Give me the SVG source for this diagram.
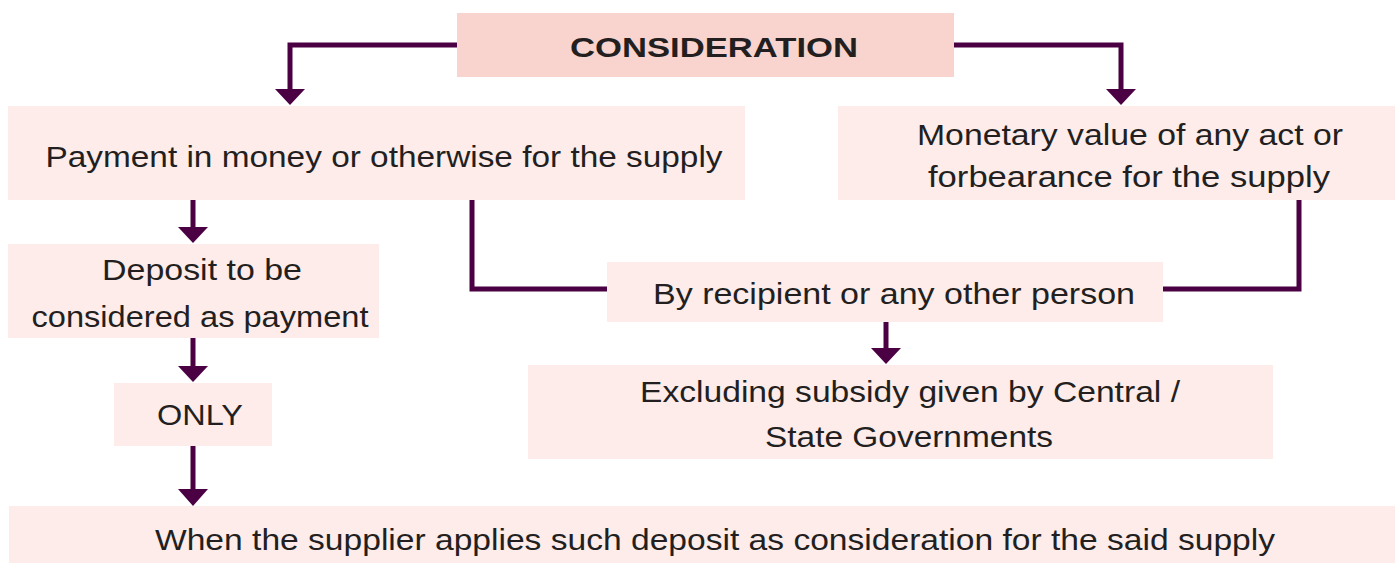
<svg xmlns="http://www.w3.org/2000/svg" width="1395" height="563" viewBox="0 0 1395 563">
<defs>
<style>
.box{fill:#FDECEA}
.top{fill:#F9D3CD}
.t{font-family:"Liberation Sans","DejaVu Sans",sans-serif;font-size:29px;fill:#231F20;text-anchor:middle}
.b{font-weight:bold;font-size:28px}
.c{fill:none;stroke:#4A0043;stroke-width:5}
.ah{fill:#4A0043}
</style>
</defs>
<rect width="1395" height="563" fill="#FFFFFF"/>
<g id="connectors">
<polyline class="c" points="457,45 290,45 290,90"/>
<polygon class="ah" points="275,89 305,89 290,105"/>
<polyline class="c" points="954,45 1121,45 1121,90"/>
<polygon class="ah" points="1106,89 1136,89 1121,105"/>
<line class="c" x1="193" y1="200" x2="193" y2="228"/>
<polygon class="ah" points="178,227 208,227 193,243"/>
<polyline class="c" points="472,200 472,289 607,289"/>
<polyline class="c" points="1163,289 1299,289 1299,200"/>
<line class="c" x1="886" y1="322" x2="886" y2="349"/>
<polygon class="ah" points="871,348 901,348 886,364"/>
<line class="c" x1="193" y1="338" x2="193" y2="367"/>
<polygon class="ah" points="178,366 208,366 193,382"/>
<line class="c" x1="193" y1="446" x2="193" y2="490"/>
<polygon class="ah" points="178,489 208,489 193,506"/>
</g>
<g id="consideration">
<rect class="top" x="457" y="13" width="497" height="64"/>
<text class="t b" x="714" y="57" textLength="288" lengthAdjust="spacingAndGlyphs">CONSIDERATION</text>
</g>
<g id="payment">
<rect class="box" x="8" y="106" width="737" height="94"/>
<text class="t" x="384" y="167" textLength="677" lengthAdjust="spacingAndGlyphs">Payment in money or otherwise for the supply</text>
</g>
<g id="monetary">
<rect class="box" x="838" y="106" width="557" height="94"/>
<text class="t" x="1130" y="145" textLength="426" lengthAdjust="spacingAndGlyphs">Monetary value of any act or</text>
<text class="t" x="1129" y="187" textLength="402" lengthAdjust="spacingAndGlyphs">forbearance for the supply</text>
</g>
<g id="deposit">
<rect class="box" x="8" y="244" width="371" height="94"/>
<text class="t" x="202" y="280" textLength="200" lengthAdjust="spacingAndGlyphs">Deposit to be</text>
<text class="t" x="200" y="327" textLength="337" lengthAdjust="spacingAndGlyphs">considered as payment</text>
</g>
<g id="only">
<rect class="box" x="114" y="383" width="158" height="63"/>
<text class="t" x="200" y="425" textLength="86" lengthAdjust="spacingAndGlyphs">ONLY</text>
</g>
<g id="recipient">
<rect class="box" x="607" y="262" width="556" height="60"/>
<text class="t" x="894" y="304" textLength="482" lengthAdjust="spacingAndGlyphs">By recipient or any other person</text>
</g>
<g id="excluding">
<rect class="box" x="528" y="365" width="745" height="94"/>
<text class="t" x="910" y="402" textLength="540" lengthAdjust="spacingAndGlyphs">Excluding subsidy given by Central /</text>
<text class="t" x="909" y="447" textLength="288" lengthAdjust="spacingAndGlyphs">State Governments</text>
</g>
<g id="when">
<rect class="box" x="9" y="506" width="1386" height="57"/>
<text class="t" x="715" y="550" textLength="1120" lengthAdjust="spacingAndGlyphs">When the supplier applies such deposit as consideration for the said supply</text>
</g>
</svg>
